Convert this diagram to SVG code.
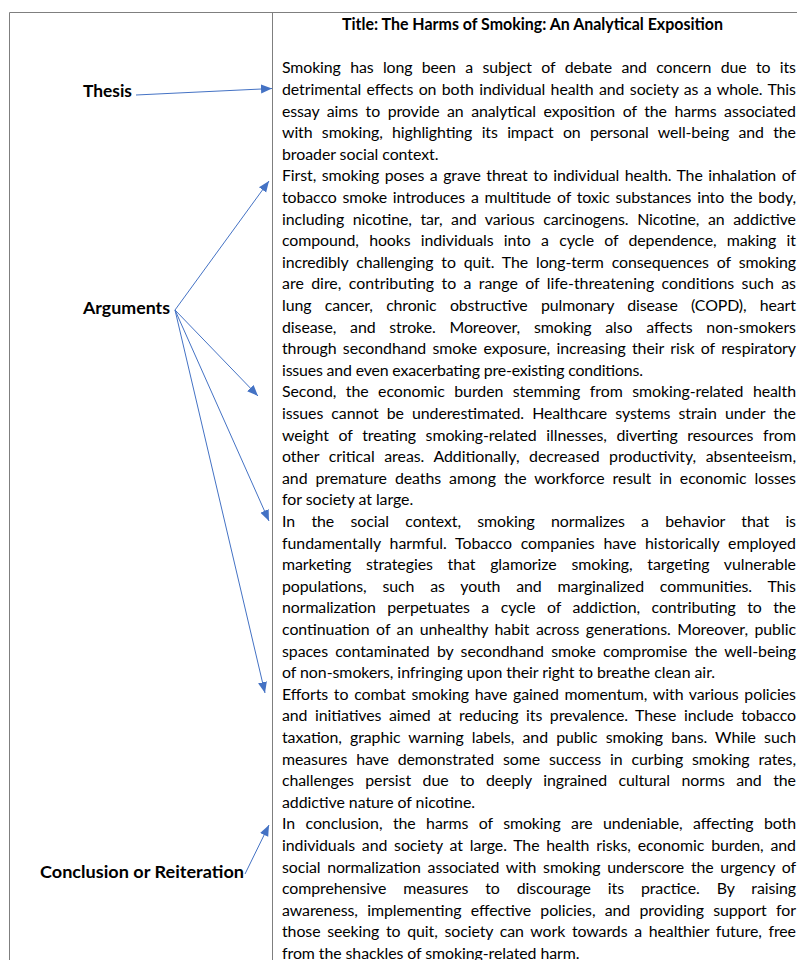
<svg xmlns="http://www.w3.org/2000/svg" width="797" height="960" viewBox="0 0 797 960">
<style>
.frame{stroke:#7f7f7f;stroke-width:1;fill:none}
.b{font-family:Lato,"Liberation Sans",sans-serif;font-size:15.9px;fill:#000}
.t{font-family:Lato,"Liberation Sans",sans-serif;font-size:16.4px;font-weight:bold;fill:#000}
.lbl{font-family:Lato,"Liberation Sans",sans-serif;font-size:17.9px;font-weight:bold;fill:#000}
.arr{stroke:#4472C4;stroke-width:1;fill:none;marker-end:url(#ah)}
</style>
<defs>
<marker id="ah" markerUnits="userSpaceOnUse" markerWidth="12" markerHeight="10" refX="11" refY="4.5" orient="auto">
<path d="M0,0 L11,4.5 L0,9 z" fill="#4472C4"/>
</marker>
</defs>
<rect width="797" height="960" fill="#fff"/>
<g id="frame">
<path class="frame" d="M9.5,960 V12.5 H797 M272.5,12.5 V960"/>
</g>
<g id="title">
<text class="t" x="342" y="29.5" textLength="381" lengthAdjust="spacingAndGlyphs">Title: The Harms of Smoking: An Analytical Exposition</text>
</g>
<g id="thesis"><text class="lbl" x="83" y="96.5" textLength="49" lengthAdjust="spacingAndGlyphs">Thesis</text></g>
<g id="arguments"><text class="lbl" x="83" y="314" textLength="87" lengthAdjust="spacingAndGlyphs">Arguments</text></g>
<g id="conclusion"><text class="lbl" x="40" y="878" textLength="204" lengthAdjust="spacingAndGlyphs">Conclusion or Reiteration</text></g>
<g id="essay" class="b">
<text x="282" y="73.3" textLength="514" style="word-spacing:5.53px">Smoking has long been a subject of debate and concern due to its</text>
<text x="282" y="94.9" textLength="514" style="word-spacing:1.43px">detrimental effects on both individual health and society as a whole. This</text>
<text x="282" y="116.5" textLength="514" style="word-spacing:3.63px">essay aims to provide an analytical exposition of the harms associated</text>
<text x="282" y="138.1" textLength="514" style="word-spacing:5.43px">with smoking, highlighting its impact on personal well-being and the</text>
<text x="282" y="159.7" textLength="156.4">broader social context.</text>
<text x="282" y="181.3" textLength="514" style="word-spacing:1.59px">First, smoking poses a grave threat to individual health. The inhalation of</text>
<text x="282" y="202.9" textLength="514" style="word-spacing:1.85px">tobacco smoke introduces a multitude of toxic substances into the body,</text>
<text x="282" y="224.5" textLength="514" style="word-spacing:4.65px">including nicotine, tar, and various carcinogens. Nicotine, an addictive</text>
<text x="282" y="246.1" textLength="514" style="word-spacing:6.36px">compound, hooks individuals into a cycle of dependence, making it</text>
<text x="282" y="267.7" textLength="514" style="word-spacing:4.08px">incredibly challenging to quit. The long-term consequences of smoking</text>
<text x="282" y="289.3" textLength="514" style="word-spacing:3.25px">are dire, contributing to a range of life-threatening conditions such as</text>
<text x="282" y="310.9" textLength="514" style="word-spacing:9.44px">lung cancer, chronic obstructive pulmonary disease (COPD), heart</text>
<text x="282" y="332.5" textLength="514" style="word-spacing:9.74px">disease, and stroke. Moreover, smoking also affects non-smokers</text>
<text x="282" y="354.1" textLength="514" style="word-spacing:2.36px">through secondhand smoke exposure, increasing their risk of respiratory</text>
<text x="282" y="375.7" textLength="361">issues and even exacerbating pre-existing conditions.</text>
<text x="282" y="397.3" textLength="514" style="word-spacing:5.56px">Second, the economic burden stemming from smoking-related health</text>
<text x="282" y="418.9" textLength="514" style="word-spacing:4.15px">issues cannot be underestimated. Healthcare systems strain under the</text>
<text x="282" y="440.5" textLength="514" style="word-spacing:5.74px">weight of treating smoking-related illnesses, diverting resources from</text>
<text x="282" y="462.1" textLength="514" style="word-spacing:5.55px">other critical areas. Additionally, decreased productivity, absenteeism,</text>
<text x="282" y="483.7" textLength="514" style="word-spacing:4.02px">and premature deaths among the workforce result in economic losses</text>
<text x="282" y="505.3" textLength="131.2">for society at large.</text>
<text x="282" y="526.9" textLength="514" style="word-spacing:12.4px">In the social context, smoking normalizes a behavior that is</text>
<text x="282" y="548.5" textLength="514" style="word-spacing:4.7px">fundamentally harmful. Tobacco companies have historically employed</text>
<text x="282" y="570.1" textLength="514" style="word-spacing:10.7px">marketing strategies that glamorize smoking, targeting vulnerable</text>
<text x="282" y="591.7" textLength="514" style="word-spacing:11.87px">populations, such as youth and marginalized communities. This</text>
<text x="282" y="613.3" textLength="514" style="word-spacing:7.56px">normalization perpetuates a cycle of addiction, contributing to the</text>
<text x="282" y="634.9" textLength="514" style="word-spacing:2.48px">continuation of an unhealthy habit across generations. Moreover, public</text>
<text x="282" y="656.5" textLength="514" style="word-spacing:3.33px">spaces contaminated by secondhand smoke compromise the well-being</text>
<text x="282" y="678.1" textLength="433">of non-smokers, infringing upon their right to breathe clean air.</text>
<text x="282" y="699.7" textLength="514" style="word-spacing:1.81px">Efforts to combat smoking have gained momentum, with various policies</text>
<text x="282" y="721.3" textLength="514" style="word-spacing:3.61px">and initiatives aimed at reducing its prevalence. These include tobacco</text>
<text x="282" y="742.9" textLength="514" style="word-spacing:4.27px">taxation, graphic warning labels, and public smoking bans. While such</text>
<text x="282" y="764.5" textLength="514" style="word-spacing:4.95px">measures have demonstrated some success in curbing smoking rates,</text>
<text x="282" y="786.1" textLength="514" style="word-spacing:7.53px">challenges persist due to deeply ingrained cultural norms and the</text>
<text x="282" y="807.7" textLength="193">addictive nature of nicotine.</text>
<text x="282" y="829.3" textLength="514" style="word-spacing:6.47px">In conclusion, the harms of smoking are undeniable, affecting both</text>
<text x="282" y="850.9" textLength="514" style="word-spacing:2.81px">individuals and society at large. The health risks, economic burden, and</text>
<text x="282" y="872.5" textLength="514" style="word-spacing:2.85px">social normalization associated with smoking underscore the urgency of</text>
<text x="282" y="894.1" textLength="514" style="word-spacing:13.03px">comprehensive measures to discourage its practice. By raising</text>
<text x="282" y="915.7" textLength="514" style="word-spacing:5.31px">awareness, implementing effective policies, and providing support for</text>
<text x="282" y="937.3" textLength="514" style="word-spacing:2.75px">those seeking to quit, society can work towards a healthier future, free</text>
<text x="282" y="958.9" textLength="297.5">from the shackles of smoking-related harm.</text>
</g>
<g id="connectors">
<line class="arr" x1="136" y1="95" x2="272" y2="88.5"/>
<line class="arr" x1="175" y1="310" x2="269" y2="181"/>
<line class="arr" x1="175" y1="310" x2="258" y2="396"/>
<line class="arr" x1="175" y1="310" x2="269" y2="521"/>
<line class="arr" x1="175" y1="310" x2="265" y2="693"/>
<line class="arr" x1="245" y1="874" x2="269" y2="825"/>
</g>
</svg>
